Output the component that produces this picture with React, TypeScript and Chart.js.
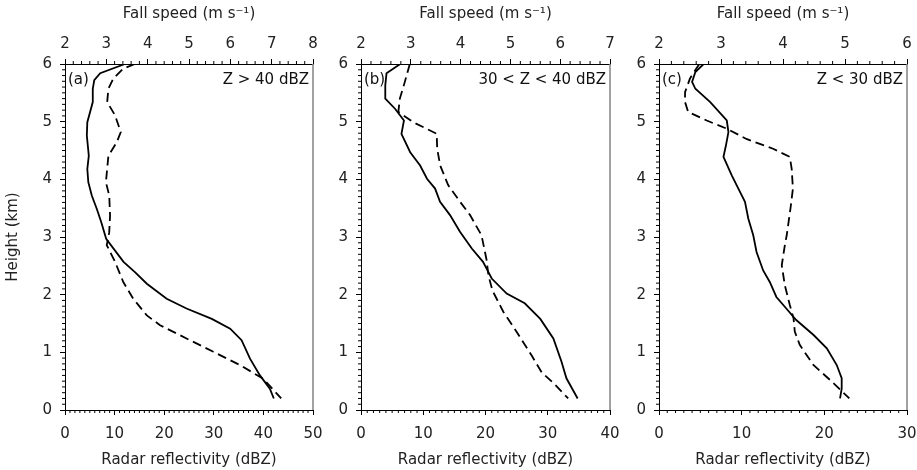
import React, { useEffect, useRef } from "react";
import { Chart, registerables } from "chart.js";

Chart.register(...registerables);

// ---------- data ----------
// Panel (a) Z > 40 dBZ
const aRefHeight = [6.0, 5.84, 5.72, 5.57, 5.34, 4.99, 4.76, 4.41, 4.18, 3.95, 3.72, 3.49, 3.26, 2.97, 2.57, 2.39, 2.19, 1.93, 1.76, 1.58, 1.41, 1.21, 0.89, 0.6, 0.37, 0.2];
const aRefValue = [12.1, 7.1, 5.9, 5.6, 5.6, 4.5, 4.4, 4.8, 4.5, 4.7, 5.4, 6.4, 7.3, 8.3, 11.8, 14.1, 16.5, 20.5, 24.5, 29.6, 33.3, 35.6, 37.3, 39.3, 41.3, 42.1];
const aFallHeight = [6.0, 5.92, 5.75, 5.57, 5.34, 5.11, 4.82, 4.64, 4.41, 4.18, 3.95, 3.72, 3.37, 3.08, 2.86, 2.57, 2.22, 1.93, 1.64, 1.47, 1.24, 1.01, 0.78, 0.54, 0.2];
const aFallValue = [3.69, 3.41, 3.17, 3.05, 3.02, 3.21, 3.35, 3.25, 3.05, 3.02, 2.99, 3.07, 3.09, 3.07, 3.01, 3.21, 3.41, 3.65, 3.98, 4.3, 4.94, 5.59, 6.23, 6.8, 7.23];

// Panel (b) 30 < Z < 40 dBZ
const bRefHeight = [6.0, 5.84, 5.63, 5.4, 5.22, 5.02, 4.79, 4.47, 4.24, 4.01, 3.84, 3.61, 3.38, 3.09, 2.8, 2.57, 2.28, 2.02, 1.85, 1.58, 1.24, 0.84, 0.55, 0.2];
const bRefValue = [6.3, 4.1, 3.9, 3.9, 5.5, 6.9, 6.5, 7.9, 9.5, 10.6, 11.9, 12.7, 14.3, 15.9, 17.8, 19.6, 21.0, 23.4, 26.3, 28.8, 30.9, 32.2, 33.0, 34.8];
const bFallHeight = [6.0, 5.69, 5.4, 5.17, 4.99, 4.79, 4.53, 4.24, 3.9, 3.61, 3.38, 3.03, 2.61, 2.33, 2.07, 1.7, 1.35, 0.94, 0.65, 0.47, 0.2];
const bFallValue = [2.98, 2.88, 2.78, 2.75, 3.05, 3.52, 3.53, 3.59, 3.75, 3.99, 4.19, 4.42, 4.52, 4.56, 4.64, 4.86, 5.13, 5.43, 5.63, 5.86, 6.16];

// Panel (c) Z < 30 dBZ
const cRefHeight = [6.0, 5.86, 5.69, 5.57, 5.34, 5.02, 4.82, 4.59, 4.39, 4.07, 3.84, 3.61, 3.32, 3.03, 2.74, 2.42, 2.22, 1.96, 1.76, 1.56, 1.3, 1.07, 0.78, 0.55, 0.37, 0.2];
const cRefValue = [5.4, 4.4, 4.0, 4.4, 6.2, 8.2, 8.4, 8.1, 7.8, 8.8, 9.6, 10.4, 10.8, 11.4, 11.8, 12.6, 13.4, 14.2, 15.4, 16.6, 18.7, 20.3, 21.5, 22.1, 22.1, 21.9];
const cFallHeight = [6.0, 5.75, 5.51, 5.34, 5.17, 5.02, 4.88, 4.7, 4.53, 4.39, 4.18, 3.84, 3.49, 3.03, 2.86, 2.51, 2.16, 1.82, 1.59, 1.36, 1.13, 0.78, 0.52, 0.2];
const cFallValue = [2.65, 2.5, 2.42, 2.42, 2.47, 2.77, 3.09, 3.41, 3.84, 4.11, 4.14, 4.16, 4.12, 4.06, 4.03, 3.98, 4.03, 4.11, 4.17, 4.19, 4.27, 4.49, 4.76, 5.07];

// axis ranges / labels
const panelTags = ["(a)", "(b)", "(c)"];
const panelLabels = ["Z > 40 dBZ", "30 < Z < 40 dBZ", "Z < 30 dBZ"];
const reflMax = [50, 40, 30];
const fallMax = [8, 7, 6];
const fallMin = 2;
const heightMax = 6;

const topTitle = "Fall speed (m s\u207B\u00B9)";
const bottomTitle = "Radar reflectivity (dBZ)";
const leftTitle = "Height (km)";

const FONT = "'DejaVu Sans', 'Liberation Sans', Arial, sans-serif";

const decorPlugin = {
  id: "decor",
  afterDraw(chart: any, _args: any, opts: any) {
    const { ctx, chartArea: ca, scales } = chart;
    ctx.save();
    // right frame edge (grey, as in the reference)
    ctx.strokeStyle = "#8a8a8a";
    ctx.lineWidth = 1.6;
    ctx.beginPath();
    ctx.moveTo(ca.right, ca.top);
    ctx.lineTo(ca.right, ca.bottom);
    ctx.stroke();

    ctx.strokeStyle = "#000";
    ctx.lineWidth = 1;
    ctx.beginPath();
    // minor ticks bottom (1 dBZ)
    const xs = scales.x;
    for (let i = 0; i <= xs.max; i++) {
      if (i % 10 === 0) continue;
      const px = xs.getPixelForValue(i);
      ctx.moveTo(px, ca.bottom);
      ctx.lineTo(px, ca.bottom + 3);
    }
    // minor ticks top (0.2 m/s)
    const x2 = scales.x2;
    const n2 = Math.round((x2.max - x2.min) * 5);
    for (let i = 0; i <= n2; i++) {
      if (i % 5 === 0) continue;
      const px = x2.getPixelForValue(x2.min + i * 0.2);
      ctx.moveTo(px, ca.top);
      ctx.lineTo(px, ca.top - 3);
    }
    // minor ticks left (0.1 km)
    const ys = scales.y;
    for (let i = 0; i <= 60; i++) {
      if (i % 10 === 0) continue;
      const py = ys.getPixelForValue(i / 10);
      ctx.moveTo(ca.left - 3, py);
      ctx.lineTo(ca.left, py);
    }
    ctx.stroke();
    ctx.fillStyle = "#111";
    ctx.font = `15px ${FONT}`;
    ctx.textBaseline = "middle";
    ctx.textAlign = "left";
    ctx.fillText(opts.tag, ca.left + 3, ca.top + 16);
    ctx.textAlign = "right";
    ctx.fillText(opts.label, ca.right - 4, ca.top + 16);
    ctx.restore();
  },
};

function makeChart(
  canvas: HTMLCanvasElement,
  idx: number,
  refH: number[],
  refV: number[],
  fallH: number[],
  fallV: number[],
  yWidth: number,
  padRight: number,
  showYTitle: boolean
) {
  const tickFont = { family: FONT, size: 15 };
  const titleFont = { family: FONT, size: 15 };
  return new Chart(canvas, {
    type: "line",
    data: {
      datasets: [
        {
          label: "Reflectivity",
          data: refH.map((h, i) => ({ x: refV[i], y: h })),
          xAxisID: "x",
          yAxisID: "y",
          borderColor: "#000",
          borderWidth: 1.8,
          pointRadius: 0,
          tension: 0,
          fill: false,
        },
        {
          label: "Fall speed",
          data: fallH.map((h, i) => ({ x: fallV[i], y: h })),
          xAxisID: "x2",
          yAxisID: "y",
          borderColor: "#000",
          borderWidth: 1.8,
          borderDash: [9, 5],
          pointRadius: 0,
          tension: 0,
          fill: false,
        },
      ],
    },
    options: {
      responsive: false,
      animation: false,
      devicePixelRatio: 1,
      layout: { padding: { left: 0, right: padRight, top: 0, bottom: 0 } },
      plugins: {
        legend: { display: false },
        tooltip: { enabled: false },
        decor: { tag: panelTags[idx], label: panelLabels[idx] },
      } as any,
      scales: {
        x: {
          type: "linear",
          position: "bottom",
          min: 0,
          max: reflMax[idx],
          ticks: { stepSize: 10, autoSkip: false, color: "#222", font: tickFont, padding: 10, maxRotation: 0 },
          grid: { display: true, drawOnChartArea: false, drawTicks: true, tickLength: 5, color: "#000" },
          border: { display: true, color: "#000", width: 1 },
          title: { display: true, text: bottomTitle, color: "#222", font: titleFont, padding: { top: 2, bottom: 1 } },
          afterFit: (s: any) => {
            s.height = 60;
            s.paddingLeft = 0;
            s.paddingRight = 0;
          },
        },
        x2: {
          type: "linear",
          position: "top",
          min: fallMin,
          max: fallMax[idx],
          ticks: { stepSize: 1, autoSkip: false, color: "#222", font: tickFont, padding: 6, maxRotation: 0 },
          grid: { display: true, drawOnChartArea: false, drawTicks: true, tickLength: 5, color: "#000" },
          border: { display: true, color: "#000", width: 1 },
          title: { display: true, text: topTitle, color: "#222", font: titleFont, padding: { top: 5, bottom: 2 } },
          afterFit: (s: any) => {
            s.height = 64;
            s.paddingLeft = 0;
            s.paddingRight = 0;
          },
        },
        y: {
          type: "linear",
          position: "left",
          min: 0,
          max: heightMax,
          ticks: { stepSize: 1, autoSkip: false, color: "#222", font: tickFont, padding: 8 },
          grid: { display: true, drawOnChartArea: false, drawTicks: true, tickLength: 5, color: "#000" },
          border: { display: true, color: "#000", width: 1 },
          title: { display: showYTitle, text: leftTitle, color: "#222", font: titleFont, padding: { top: 4, bottom: 2 } },
          afterFit: (s: any) => {
            s.width = yWidth;
            s.paddingTop = 0;
            s.paddingBottom = 0;
          },
        },
      },
    } as any,
    plugins: [decorPlugin],
  });
}

export default function App() {
  const refA = useRef<HTMLCanvasElement>(null);
  const refB = useRef<HTMLCanvasElement>(null);
  const refC = useRef<HTMLCanvasElement>(null);

  useEffect(() => {
    const charts = [
      makeChart(refA.current!, 0, aRefHeight, aRefValue, aFallHeight, aFallValue, 65, 12, true),
      makeChart(refB.current!, 1, bRefHeight, bRefValue, bFallHeight, bFallValue, 51, 12, false),
      makeChart(refC.current!, 2, cRefHeight, cRefValue, cFallHeight, cFallValue, 49, 10, false),
    ];
    return () => charts.forEach((c) => c.destroy());
  }, []);

  const base: React.CSSProperties = { position: "absolute", top: 0 };
  return (
    <div style={{ position: "fixed", left: 0, top: 0, width: 917, height: 470, background: "#fff" }}>
      <canvas ref={refA} width={325} height={470} style={{ ...base, left: 0, width: 325, height: 470 }} />
      <canvas ref={refB} width={312} height={470} style={{ ...base, left: 310, width: 312, height: 470 }} />
      <canvas ref={refC} width={307} height={470} style={{ ...base, left: 610, width: 307, height: 470 }} />
    </div>
  );
}
